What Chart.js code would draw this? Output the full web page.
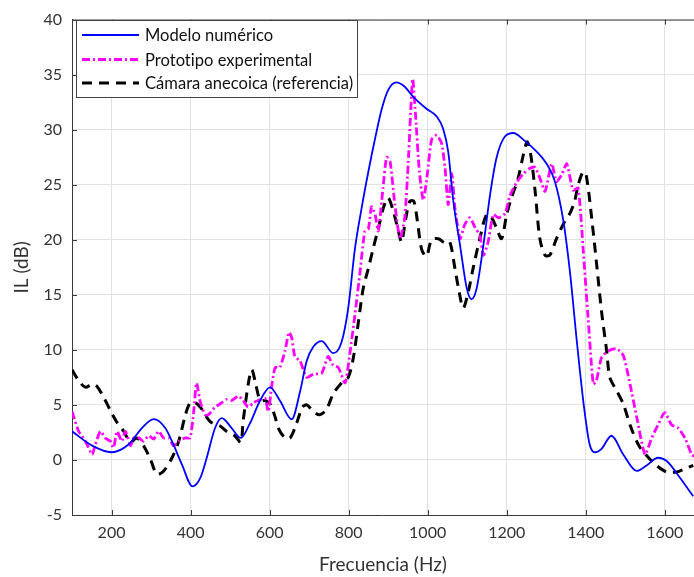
<!DOCTYPE html>
<html><head><meta charset="utf-8">
<script src="https://cdn.jsdelivr.net/npm/chart.js@4.4.1/dist/chart.umd.min.js"></script>
<style>html,body{margin:0;padding:0;background:#fff;}#wrap{width:694px;height:577px;position:relative}</style>
</head><body><div id="wrap"><canvas id="c" width="694" height="577"></canvas></div>
<script>
// ---- Data ----
const xTicks = [200,400,600,800,1000,1200,1400,1600];
const yTicks = [-5,0,5,10,15,20,25,30,35,40];
const seriesNames = ['Modelo numérico','Prototipo experimental','Cámara anecoica (referencia)'];

const modeloFreq = [100,151,200,243,277,307,336,353,378,405,425,441,462,479,504,527,550,576,601,626,656,677,694,711,732,761,782,799,816,833,850,867,884,900,921,942,963,997,1023,1039,1052,1065,1082,1099,1111,1124,1141,1158,1174,1196,1217,1242,1276,1301,1322,1343,1360,1378,1395,1410,1425,1440,1465,1495,1529,1554,1583,1605,1638,1672];
const modeloIL = [2.6,1.3,0.7,1.4,2.9,3.7,2.9,1.7,-0.4,-2.4,-1.6,0.2,2.9,3.8,2.9,2.0,3.3,5.4,6.6,5.4,3.7,6.2,9.0,10.3,10.8,9.7,10.7,13.8,19.2,22.9,26.2,29.2,31.9,33.6,34.3,33.9,33.0,31.9,31.2,30.1,28.0,23.5,19.5,15.6,14.6,15.6,19.5,24.1,27.4,29.4,29.7,29.1,28.0,26.9,25.3,21.8,17.1,10.6,5.0,1.4,0.7,1.0,2.2,0.5,-1.0,-0.5,0.2,-0.1,-1.6,-3.3];

const protoFreq = [100,108,117,134,151,159,172,184,197,205,214,226,235,248,256,269,281,294,307,319,332,345,357,370,387,399,408,415,425,437,445,462,479,491,504,521,533,546,559,571,588,597,605,614,626,639,649,656,664,677,694,711,732,748,761,774,791,804,816,829,841,850,858,867,875,887,896,905,917,930,942,951,962,970,979,989,999,1010,1023,1035,1044,1052,1061,1069,1082,1094,1107,1120,1132,1141,1153,1166,1179,1196,1208,1225,1242,1259,1271,1284,1297,1314,1326,1339,1352,1368,1381,1394,1406,1419,1427,1440,1457,1478,1495,1512,1529,1550,1567,1583,1600,1617,1634,1651,1668,1675];
const protoIL = [4.4,3.5,2.6,1.7,0.5,1.4,2.6,2.0,1.7,1.1,2.6,1.7,2.6,1.3,2.0,2.0,1.7,2.2,1.9,2.6,2.0,2.0,1.3,1.7,2.0,2.0,4.4,7.0,5.2,4.1,4.1,4.8,5.2,5.5,5.4,5.8,5.4,4.8,5.2,5.4,5.6,4.4,6.6,8.4,8.4,9.9,11.6,11.1,9.4,9.0,7.5,7.8,7.9,9.4,8.6,8.4,7.0,9.9,13.2,17.1,20.8,21.0,23.0,22.3,20.8,24.7,27.5,27.1,23.2,20.1,22.0,27.1,34.6,31.0,26.2,23.6,25.9,29.1,29.5,28.8,26.5,23.2,26.0,22.9,20.1,21.4,22.0,21.1,20.4,18.6,19.8,22.3,22.0,22.4,24.0,25.2,26.0,26.5,26.6,25.6,24.4,26.9,25.3,25.9,26.9,24.5,24.7,18.9,12.9,6.9,7.2,9.3,9.9,10.1,9.5,6.9,3.9,0.5,2.0,3.2,4.3,3.2,2.9,2.0,0.5,0.3];

const camaraFreq = [100,117,134,151,163,180,197,214,231,248,264,281,298,315,332,353,370,387,399,412,429,449,474,491,512,527,533,546,555,563,576,588,601,614,622,639,652,668,683,694,711,727,744,761,782,799,812,825,837,850,862,875,888,900,913,926,934,945,955,965,974,985,997,1010,1027,1044,1056,1069,1078,1090,1103,1115,1132,1149,1162,1174,1187,1200,1212,1229,1242,1252,1261,1272,1284,1297,1309,1326,1343,1360,1372,1381,1394,1402,1415,1427,1440,1453,1461,1478,1495,1512,1533,1554,1579,1605,1630,1651,1672];
const camaraIL = [8.2,7.2,6.6,6.9,6.7,5.7,4.5,3.4,2.6,1.6,2.0,1.3,0.1,-1.3,-1.0,0.2,1.7,4.1,5.2,5.2,4.6,3.5,3.1,2.6,2.2,1.6,3.5,6.9,8.2,7.2,5.4,5.4,5.1,3.9,2.9,2.0,2.0,3.3,4.8,5.0,4.4,4.1,4.6,6.0,7.0,7.5,9.3,12.6,15.6,17.4,19.2,21.0,22.9,23.8,22.6,20.8,19.8,22.0,23.5,23.5,21.7,19.1,18.5,20.0,20.1,19.7,19.8,17.4,15.6,13.8,15.3,17.4,20.1,22.3,22.0,21.1,20.1,22.3,23.8,25.6,27.7,28.9,27.7,24.4,20.1,18.6,18.6,20.1,21.4,22.4,23.5,25.0,26.2,25.7,22.0,18.0,13.5,9.9,7.5,6.3,5.1,3.2,1.4,0.4,-0.5,-1.1,-1.1,-0.8,-0.5];

const zip = (xs, ys) => xs.map((x, i) => ({x: x, y: ys[i]}));

const FONT = 'Lato, "Open Sans", sans-serif';
const AXIS_COLOR = '#3a3a3a';
const TEXT_COLOR = '#333333';
const GRID_COLOR = '#e2e2e2';

const styles = [
  {color: '#0000ff', width: 1.8, dash: []},
  {color: '#ff00ff', width: 2.8, dash: [8, 3, 2, 3]},
  {color: '#000000', width: 3, dash: [10, 7]}
];

const boxPlugin = {
  id: 'boxPlugin',
  afterDraw(chart) {
    const ctx = chart.ctx, a = chart.chartArea;
    const xs = chart.scales.x, ys = chart.scales.y;
    ctx.save();
    ctx.strokeStyle = AXIS_COLOR;
    ctx.lineWidth = 1;
    ctx.setLineDash([]);
    ctx.beginPath();
    ctx.moveTo(a.left, a.top + 0.5); ctx.lineTo(a.right, a.top + 0.5);
    xTicks.forEach(v => {
      const p = Math.round(xs.getPixelForValue(v)) + 0.5;
      ctx.moveTo(p, a.bottom); ctx.lineTo(p, a.bottom - 5);
      ctx.moveTo(p, a.top); ctx.lineTo(p, a.top + 5);
    });
    yTicks.forEach(v => {
      const p = Math.round(ys.getPixelForValue(v)) + 0.5;
      ctx.moveTo(a.left, p); ctx.lineTo(a.left + 5, p);
    });
    ctx.stroke();

    // legend box
    const lx = 76, ly = 20, lw = 281, lh = 77;
    ctx.fillStyle = '#ffffff';
    ctx.fillRect(lx, ly, lw, lh);
    ctx.strokeStyle = '#444';
    ctx.strokeRect(lx + 0.5, ly + 0.5, lw, lh);
    let size = 16;
    ctx.font = size + 'px ' + FONT;
    const w = ctx.measureText(seriesNames[2]).width;
    size = size * 208 / w;
    ctx.font = size.toFixed(2) + 'px ' + FONT;
    try { ctx.letterSpacing = '0.01px'; } catch (e) {}
    ctx.textBaseline = 'middle';
    ctx.textAlign = 'left';
    const rows = [35, 59.5, 83];
    seriesNames.forEach((name, i) => {
      const s = styles[i];
      ctx.strokeStyle = s.color;
      ctx.lineWidth = s.width;
      ctx.setLineDash(s.dash);
      ctx.beginPath();
      ctx.moveTo(82, rows[i]); ctx.lineTo(139, rows[i]);
      ctx.stroke();
      ctx.setLineDash([]);
      ctx.fillStyle = '#111';
      ctx.fillText(name, 145, rows[i] + 1);
    });
    ctx.restore();
  }
};

new Chart(document.getElementById('c'), {
  type: 'line',
  data: {
    datasets: [
      {label: seriesNames[0], data: zip(modeloFreq, modeloIL), borderColor: styles[0].color, borderWidth: styles[0].width, borderDash: styles[0].dash, pointRadius: 0, cubicInterpolationMode: 'monotone', fill: false},
      {label: seriesNames[1], data: zip(protoFreq, protoIL), borderColor: styles[1].color, borderWidth: styles[1].width, borderDash: styles[1].dash, pointRadius: 0, tension: 0.2, fill: false},
      {label: seriesNames[2], data: zip(camaraFreq, camaraIL), borderColor: styles[2].color, borderWidth: styles[2].width, borderDash: styles[2].dash, pointRadius: 0, tension: 0.3, fill: false}
    ]
  },
  options: {
    responsive: false,
    animation: false,
    devicePixelRatio: 1,
    layout: {padding: {top: 17, right: 0, bottom: 0, left: 0}},
    plugins: {legend: {display: false}, tooltip: {enabled: false}},
    scales: {
      x: {
        type: 'linear', min: 100, max: 1674,
        afterBuildTicks: s => { s.ticks = xTicks.map(v => ({value: v})); },
        afterFit: s => { s.height = 62; },
        grid: {color: GRID_COLOR, drawTicks: false},
        border: {display: true, color: AXIS_COLOR, width: 1},
        ticks: {color: TEXT_COLOR, font: {family: FONT, size: 16}, padding: 8, maxRotation: 0, autoSkip: false, callback: v => String(v)},
        title: {display: true, text: 'Frecuencia (Hz)', color: TEXT_COLOR, font: {family: FONT, size: 19}, padding: {top: 0, bottom: 1}}
      },
      y: {
        type: 'linear', min: -5, max: 40,
        afterBuildTicks: s => { s.ticks = yTicks.map(v => ({value: v})); },
        afterFit: s => { s.width = 72; },
        grid: {color: GRID_COLOR, drawTicks: false},
        border: {display: true, color: AXIS_COLOR, width: 1},
        ticks: {color: TEXT_COLOR, font: {family: FONT, size: 16}, padding: 10, autoSkip: false, callback: v => String(v)},
        title: {display: true, text: 'IL (dB)', color: TEXT_COLOR, font: {family: FONT, size: 19}, padding: {top: 10, bottom: 0}}
      }
    }
  },
  plugins: [boxPlugin]
});
</script>
</body></html>
